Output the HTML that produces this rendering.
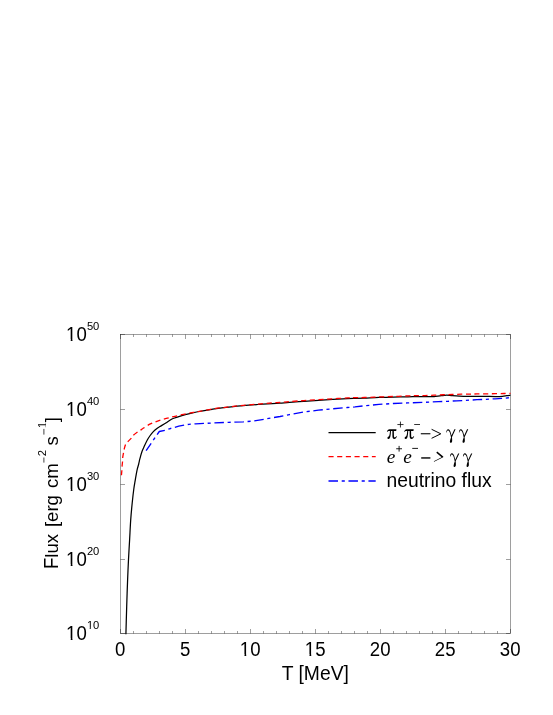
<!DOCTYPE html>
<html><head><meta charset="utf-8"><title>Flux</title>
<style>html,body{margin:0;padding:0;background:#fff}svg{display:block}.g{filter:grayscale(1)}text{font-family:"Liberation Sans",sans-serif;fill:#000}.s{font-family:"Liberation Serif",serif}.i{font-family:"Liberation Serif",serif;font-style:italic}</style></head><body>
<svg width="553" height="715" viewBox="0 0 553 715">
<rect width="553" height="715" fill="#fff"/>
<defs><clipPath id="k1"><path d="M-2 -22.32H18.60V-1.41H-2ZM4.63 -1.89H6.37V1H4.63Z"/></clipPath><clipPath id="k2"><path d="M-2 -13.44H11.20V-0.86H-2ZM2.77 -1.34H3.86V1H2.77Z"/></clipPath></defs>
<g stroke="#000" stroke-width="0.38" fill="none">
<rect x="120.5" y="334.5" width="390.0" height="299.0"/>
<path d="M120.50 633.5v-4.5M120.50 334.5v4.5M133.50 633.5v-2.5M133.50 334.5v2.5M146.50 633.5v-2.5M146.50 334.5v2.5M159.50 633.5v-2.5M159.50 334.5v2.5M172.50 633.5v-2.5M172.50 334.5v2.5M185.50 633.5v-4.5M185.50 334.5v4.5M198.50 633.5v-2.5M198.50 334.5v2.5M211.50 633.5v-2.5M211.50 334.5v2.5M224.50 633.5v-2.5M224.50 334.5v2.5M237.50 633.5v-2.5M237.50 334.5v2.5M250.50 633.5v-4.5M250.50 334.5v4.5M263.50 633.5v-2.5M263.50 334.5v2.5M276.50 633.5v-2.5M276.50 334.5v2.5M289.50 633.5v-2.5M289.50 334.5v2.5M302.50 633.5v-2.5M302.50 334.5v2.5M315.50 633.5v-4.5M315.50 334.5v4.5M328.50 633.5v-2.5M328.50 334.5v2.5M341.50 633.5v-2.5M341.50 334.5v2.5M354.50 633.5v-2.5M354.50 334.5v2.5M367.50 633.5v-2.5M367.50 334.5v2.5M380.50 633.5v-4.5M380.50 334.5v4.5M393.50 633.5v-2.5M393.50 334.5v2.5M406.50 633.5v-2.5M406.50 334.5v2.5M419.50 633.5v-2.5M419.50 334.5v2.5M432.50 633.5v-2.5M432.50 334.5v2.5M445.50 633.5v-4.5M445.50 334.5v4.5M458.50 633.5v-2.5M458.50 334.5v2.5M471.50 633.5v-2.5M471.50 334.5v2.5M484.50 633.5v-2.5M484.50 334.5v2.5M497.50 633.5v-2.5M497.50 334.5v2.5M510.50 633.5v-4.5M510.50 334.5v4.5M120.5 633.50h4.5M510.5 633.50h-4.5M120.5 559.50h4.5M510.5 559.50h-4.5M120.5 484.50h4.5M510.5 484.50h-4.5M120.5 409.50h4.5M510.5 409.50h-4.5M120.5 334.50h4.5M510.5 334.50h-4.5"/>
</g>
<g fill="none" stroke-width="1.25" stroke-linejoin="round">
<path stroke="#000" d="M125.90 634.30C125.97 631.92 126.13 625.72 126.30 620.00C126.47 614.28 126.68 606.67 126.90 600.00C127.12 593.33 127.33 586.75 127.60 580.00C127.87 573.25 128.17 566.17 128.50 559.50C128.83 552.83 129.23 546.58 129.60 540.00C129.97 533.42 130.27 526.17 130.70 520.00C131.13 513.83 131.68 508.17 132.20 503.00C132.72 497.83 133.28 492.85 133.80 489.00C134.32 485.15 134.77 483.02 135.30 479.90C135.83 476.78 136.43 472.95 137.00 470.30C137.57 467.65 138.22 465.93 138.70 464.00C139.18 462.07 139.35 460.78 139.90 458.70C140.45 456.62 141.23 453.65 142.00 451.50C142.77 449.35 143.62 447.72 144.50 445.80C145.38 443.88 146.39 441.68 147.30 440.00C148.22 438.32 148.98 437.16 149.99 435.75C151.00 434.34 152.14 432.82 153.35 431.56C154.56 430.30 156.16 429.04 157.27 428.20C158.38 427.36 158.58 427.37 160.00 426.50C161.42 425.63 163.81 424.23 165.80 422.98C167.79 421.73 169.88 420.02 171.93 419.00C173.98 417.98 175.85 417.55 178.08 416.83C180.31 416.11 182.89 415.32 185.30 414.66C187.71 414.00 190.10 413.42 192.55 412.85C195.00 412.28 197.09 411.80 200.00 411.26C202.91 410.72 207.59 410.00 210.00 409.60C212.41 409.20 211.31 409.26 214.47 408.84C217.62 408.42 224.11 407.64 228.93 407.10C233.75 406.56 238.58 406.03 243.40 405.60C248.22 405.17 253.05 404.84 257.87 404.50C262.69 404.16 268.64 403.77 272.33 403.55C276.02 403.33 277.14 403.41 280.00 403.20C282.86 402.99 285.48 402.62 289.47 402.30C293.46 401.98 299.11 401.59 303.93 401.28C308.75 400.97 313.58 400.73 318.40 400.42C323.22 400.11 328.05 399.70 332.87 399.40C337.69 399.10 343.64 398.78 347.33 398.60C351.02 398.42 352.14 398.40 355.00 398.30C357.86 398.20 360.48 398.16 364.47 398.02C368.46 397.88 374.11 397.58 378.93 397.44C383.75 397.30 388.58 397.26 393.40 397.15C398.22 397.04 403.05 396.88 407.87 396.80C412.69 396.73 418.64 396.73 422.33 396.70C426.02 396.67 428.05 396.67 430.00 396.65C431.95 396.63 432.16 396.73 434.04 396.57C435.92 396.41 439.16 395.89 441.27 395.67C443.38 395.45 444.89 395.22 446.70 395.22C448.50 395.22 449.99 395.52 452.10 395.67C454.21 395.82 456.94 396.01 459.36 396.12C461.78 396.23 463.65 396.32 466.60 396.35C469.55 396.38 473.79 396.29 477.04 396.29C480.29 396.30 483.07 396.33 486.08 396.38C489.09 396.43 492.41 396.56 495.12 396.56C497.83 396.56 500.40 396.53 502.36 396.38C504.32 396.23 505.52 395.86 506.88 395.66C508.24 395.46 509.90 395.28 510.50 395.20"/>
<path stroke="#f00" stroke-width="1.3" stroke-dasharray="5.1 3.575" d="M121.45 475.30C121.52 474.46 121.77 471.72 121.87 470.25C121.97 468.78 121.93 467.97 122.04 466.50C122.15 465.03 122.43 462.92 122.54 461.45C122.65 459.98 122.53 459.14 122.70 457.67C122.87 456.20 123.31 454.03 123.55 452.64C123.79 451.25 123.78 450.70 124.13 449.30C124.48 447.90 125.04 445.52 125.64 444.26C126.24 443.00 126.76 442.79 127.74 441.74C128.72 440.69 130.59 439.02 131.50 437.97C132.41 436.92 132.14 436.47 133.19 435.45C134.24 434.43 136.62 432.69 137.80 431.85C138.99 431.01 139.50 430.92 140.30 430.40C141.10 429.88 141.02 429.78 142.60 428.75C144.18 427.72 147.30 425.46 149.80 424.20C152.30 422.94 154.85 422.12 157.60 421.16C160.34 420.20 163.38 419.25 166.27 418.44C169.16 417.62 171.88 416.99 174.95 416.27C178.02 415.55 181.64 414.73 184.72 414.10C187.80 413.47 190.85 412.95 193.40 412.48C195.95 412.01 196.49 411.93 200.00 411.30C203.51 410.67 209.65 409.43 214.47 408.70C219.29 407.97 224.11 407.47 228.93 406.90C233.75 406.33 238.58 405.77 243.40 405.30C248.22 404.83 253.05 404.50 257.87 404.10C262.69 403.70 268.64 403.17 272.33 402.90C276.02 402.63 277.14 402.72 280.00 402.50C282.86 402.28 285.48 401.93 289.47 401.60C293.46 401.28 299.11 400.87 303.93 400.55C308.75 400.23 313.58 400.00 318.40 399.70C323.22 399.40 328.05 399.04 332.87 398.75C337.69 398.46 343.64 398.14 347.33 397.95C351.02 397.76 352.14 397.68 355.00 397.60C357.86 397.53 360.48 397.61 364.47 397.50C368.46 397.39 374.11 397.12 378.93 396.95C383.75 396.78 388.58 396.68 393.40 396.50C398.22 396.32 404.01 396.04 407.87 395.90C411.73 395.76 413.69 395.71 416.55 395.65C419.41 395.59 422.08 395.62 425.00 395.55C427.92 395.48 431.03 395.33 434.04 395.20C437.05 395.07 440.07 394.88 443.08 394.76C446.09 394.64 449.09 394.59 452.10 394.50C455.12 394.41 458.19 394.29 461.17 394.22C464.15 394.15 467.36 394.15 470.00 394.10C472.64 394.06 474.32 393.99 477.00 393.95C479.68 393.91 483.06 393.90 486.08 393.85C489.10 393.80 492.11 393.73 495.12 393.67C498.13 393.61 501.61 393.54 504.17 393.49C506.73 393.44 509.44 393.41 510.50 393.40"/>
<path stroke="#00f" stroke-width="1.35" stroke-dasharray="9.5 3.7 3.1 3.67" stroke-dashoffset="0.6" d="M146.1 450.6 L159.3 431.5 L165.1 430.3 L169.4 428.8 L178.8 426.2 L188.9 424.3 L195.6 423.8 L200.0 423.6 L214.5 422.9 L228.9 422.3 L243.4 421.8 L253.5 421.0 L262.2 419.6 L272.3 417.8 L280.0 416.5 L289.5 414.6 L303.9 412.0 L318.4 410.2 L332.9 408.8 L347.3 407.5 L355.0 406.9 L364.5 405.8 L378.9 404.4 L393.4 403.5 L407.9 402.9 L422.3 402.4 L430.0 402.1 L438.6 401.6 L447.6 401.3 L456.6 400.8 L465.7 400.4 L477.0 399.7 L486.1 399.3 L495.1 398.8 L504.2 398.2 L510.0 397.7"/>
<path stroke="#000" d="M328.5 432.5H375.7"/>
<path stroke="#f00" stroke-width="1.3" stroke-dasharray="5.1 3.575" d="M328.5 456.7H375.7"/>
<path stroke="#00f" stroke-width="1.35" stroke-dasharray="9.5 3.7 3.1 3.67" d="M328.5 480.95H375.7"/>
</g>
<g class="g">
<g transform="translate(66.10 340.50) scale(1 1.05)"><g transform="translate(0.00 0)"><text font-size="18.6" clip-path="url(#k1)">1</text></g><text x="10.34" y="0" font-size="18.6">0</text></g>
<g transform="translate(86.90 329.70) scale(1 1.05)"><text x="0.00" y="0" font-size="11.2">5</text><text x="6.23" y="0" font-size="11.2">0</text></g>
<g transform="translate(66.10 415.50) scale(1 1.05)"><g transform="translate(0.00 0)"><text font-size="18.6" clip-path="url(#k1)">1</text></g><text x="10.34" y="0" font-size="18.6">0</text></g>
<g transform="translate(86.90 404.70) scale(1 1.05)"><text x="0.00" y="0" font-size="11.2">4</text><text x="6.23" y="0" font-size="11.2">0</text></g>
<g transform="translate(66.10 490.50) scale(1 1.05)"><g transform="translate(0.00 0)"><text font-size="18.6" clip-path="url(#k1)">1</text></g><text x="10.34" y="0" font-size="18.6">0</text></g>
<g transform="translate(86.90 479.70) scale(1 1.05)"><text x="0.00" y="0" font-size="11.2">3</text><text x="6.23" y="0" font-size="11.2">0</text></g>
<g transform="translate(66.10 565.50) scale(1 1.05)"><g transform="translate(0.00 0)"><text font-size="18.6" clip-path="url(#k1)">1</text></g><text x="10.34" y="0" font-size="18.6">0</text></g>
<g transform="translate(86.90 554.70) scale(1 1.05)"><text x="0.00" y="0" font-size="11.2">2</text><text x="6.23" y="0" font-size="11.2">0</text></g>
<g transform="translate(66.10 639.50) scale(1 1.05)"><g transform="translate(0.00 0)"><text font-size="18.6" clip-path="url(#k1)">1</text></g><text x="10.34" y="0" font-size="18.6">0</text></g>
<g transform="translate(86.90 628.70) scale(1 1.05)"><g transform="translate(0.00 0)"><text font-size="11.2" clip-path="url(#k2)">1</text></g><text x="6.23" y="0" font-size="11.2">0</text></g>
<g transform="translate(115.03 655.50) scale(1 1.05)"><text x="0.00" y="0" font-size="18.6">0</text></g>
<g transform="translate(180.03 655.50) scale(1 1.05)"><text x="0.00" y="0" font-size="18.6">5</text></g>
<g transform="translate(239.86 655.50) scale(1 1.05)"><g transform="translate(0.00 0)"><text font-size="18.6" clip-path="url(#k1)">1</text></g><text x="10.34" y="0" font-size="18.6">0</text></g>
<g transform="translate(304.86 655.50) scale(1 1.05)"><g transform="translate(0.00 0)"><text font-size="18.6" clip-path="url(#k1)">1</text></g><text x="10.34" y="0" font-size="18.6">5</text></g>
<g transform="translate(369.86 655.50) scale(1 1.05)"><text x="0.00" y="0" font-size="18.6">2</text><text x="10.34" y="0" font-size="18.6">0</text></g>
<g transform="translate(434.86 655.50) scale(1 1.05)"><text x="0.00" y="0" font-size="18.6">2</text><text x="10.34" y="0" font-size="18.6">5</text></g>
<g transform="translate(499.86 655.50) scale(1 1.05)"><text x="0.00" y="0" font-size="18.6">3</text><text x="10.34" y="0" font-size="18.6">0</text></g>
<text transform="translate(281.7 680.4) scale(1 1.04)" font-size="19.3">T [MeV]</text>
<text transform="translate(57.9 569.1) rotate(-90) scale(1 1.045)" font-size="18.6">F</text>
<text transform="translate(57.9 557.73837890625) rotate(-90)" font-size="18.6">lux</text>
<text transform="translate(57.9 527.1) rotate(-90)" font-size="18.6">[erg</text>
<text transform="translate(57.9 488.0) rotate(-90)" font-size="18.6">cm</text>
<text transform="translate(57.9 445.4) rotate(-90)" font-size="18.6">s</text>
<text transform="translate(57.9 422.2) rotate(-90)" font-size="18.6">]</text>
<text transform="translate(46.2 456.3) rotate(-90)" font-size="11.2">2</text>
<g transform="translate(46.2 428.1) rotate(-90)"><text font-size="11.2" clip-path="url(#k2)">1</text></g>
<path stroke="#000" stroke-width="0.75" fill="none" d="M43.9 462.6V457.5M43.9 434.6V428.9"/>
<g aria-label="π+π−−> γ γ"><path d="M386.9 431.7C387.3 430.3 388.2 429.35 389.5 429.35L396.45 429.35L396.2 430.95L393.85 430.95L393.95 436C394 437.2 394.4 437.5 394.8 437.4C395.4 437.3 396.1 436.8 396.6 435.9L396.95 436.1C396.5 437.9 395.5 439.05 394.3 439.05C393 439.05 392.4 438 392.4 436L392.4 430.95L390.95 430.95C390.9 433.5 390.6 436.2 390 437.8C389.6 438.7 389 439.05 388.3 439.05C387.5 439.05 387.2 438.3 387.5 437.6C387.9 436.9 388.8 436.8 389.2 435.8C389.7 434.5 389.9 432.5 389.95 430.95L389.3 430.95C388.3 430.95 387.7 431.2 387.2 431.9Z"/><path transform="translate(17.24 0)" d="M386.9 431.7C387.3 430.3 388.2 429.35 389.5 429.35L396.45 429.35L396.2 430.95L393.85 430.95L393.95 436C394 437.2 394.4 437.5 394.8 437.4C395.4 437.3 396.1 436.8 396.6 435.9L396.95 436.1C396.5 437.9 395.5 439.05 394.3 439.05C393 439.05 392.4 438 392.4 436L392.4 430.95L390.95 430.95C390.9 433.5 390.6 436.2 390 437.8C389.6 438.7 389 439.05 388.3 439.05C387.5 439.05 387.2 438.3 387.5 437.6C387.9 436.9 388.8 436.8 389.2 435.8C389.7 434.5 389.9 432.5 389.95 430.95L389.3 430.95C388.3 430.95 387.7 431.2 387.2 431.9Z"/><path d="M446.25 432.4C446.3 430.6 447 429.25 448.1 429.25C449.5 429.25 450.4 431 451 433.6L451.5 435.6L454.4 429.3L455.6 429.3L451.9 437.2C452.2 439 452.3 440.5 452.1 441.5C451.9 442.4 451.4 442.8 450.8 442.8C450.2 442.8 449.8 442.3 449.9 441.3C450 440.2 450.5 438.8 451.05 437.4C450.6 434.8 450 432.6 449.3 431.4C448.7 430.4 447.9 430.3 447.4 430.8C447 431.2 446.8 431.8 446.7 432.5Z"/><path transform="translate(12.66 0)" d="M446.25 432.4C446.3 430.6 447 429.25 448.1 429.25C449.5 429.25 450.4 431 451 433.6L451.5 435.6L454.4 429.3L455.6 429.3L451.9 437.2C452.2 439 452.3 440.5 452.1 441.5C451.9 442.4 451.4 442.8 450.8 442.8C450.2 442.8 449.8 442.3 449.9 441.3C450 440.2 450.5 438.8 451.05 437.4C450.6 434.8 450 432.6 449.3 431.4C448.7 430.4 447.9 430.3 447.4 430.8C447 431.2 446.8 431.8 446.7 432.5Z"/></g>
<g aria-label="γ γ"><path transform="translate(3.72 24.1)" d="M446.25 432.4C446.3 430.6 447 429.25 448.1 429.25C449.5 429.25 450.4 431 451 433.6L451.5 435.6L454.4 429.3L455.6 429.3L451.9 437.2C452.2 439 452.3 440.5 452.1 441.5C451.9 442.4 451.4 442.8 450.8 442.8C450.2 442.8 449.8 442.3 449.9 441.3C450 440.2 450.5 438.8 451.05 437.4C450.6 434.8 450 432.6 449.3 431.4C448.7 430.4 447.9 430.3 447.4 430.8C447 431.2 446.8 431.8 446.7 432.5Z"/><path transform="translate(16.7 24.1)" d="M446.25 432.4C446.3 430.6 447 429.25 448.1 429.25C449.5 429.25 450.4 431 451 433.6L451.5 435.6L454.4 429.3L455.6 429.3L451.9 437.2C452.2 439 452.3 440.5 452.1 441.5C451.9 442.4 451.4 442.8 450.8 442.8C450.2 442.8 449.8 442.3 449.9 441.3C450 440.2 450.5 438.8 451.05 437.4C450.6 434.8 450 432.6 449.3 431.4C448.7 430.4 447.9 430.3 447.4 430.8C447 431.2 446.8 431.8 446.7 432.5Z"/></g>
<path stroke="#000" stroke-width="0.8" fill="none" d="M397.4 424.55H403.5M400.45 421.6V427.5M414.2 424.5H420"/>
<path stroke="#000" stroke-width="1.1" fill="none" d="M420.8 433.75H430.4"/>
<path stroke="#000" stroke-width="1.0" fill="none" d="M431.6 429.3L440.8 433.8L431.6 438.3"/>
<text class="i" font-size="19.3" x="386.7" y="463.0">e</text><text class="i" font-size="19.3" x="403.2" y="463.0">e</text>
<path stroke="#000" stroke-width="0.9" fill="none" d="M396.2 448.75H402M399.1 445.9V451.6M412.25 448.4H418"/>
<path stroke="#000" stroke-width="1.4" fill="none" d="M421.2 457.95H430.4"/>
<path fill="#000" d="M436.3 452.7L437.2 451.6L443.3 456.6L443.2 457.3L434.1 461.7L433.8 461.2L441.6 457.2Z"/>
<text font-size="19.3" x="386.5" y="487.2">neutrino flux</text>
</g>
</svg></body></html>
